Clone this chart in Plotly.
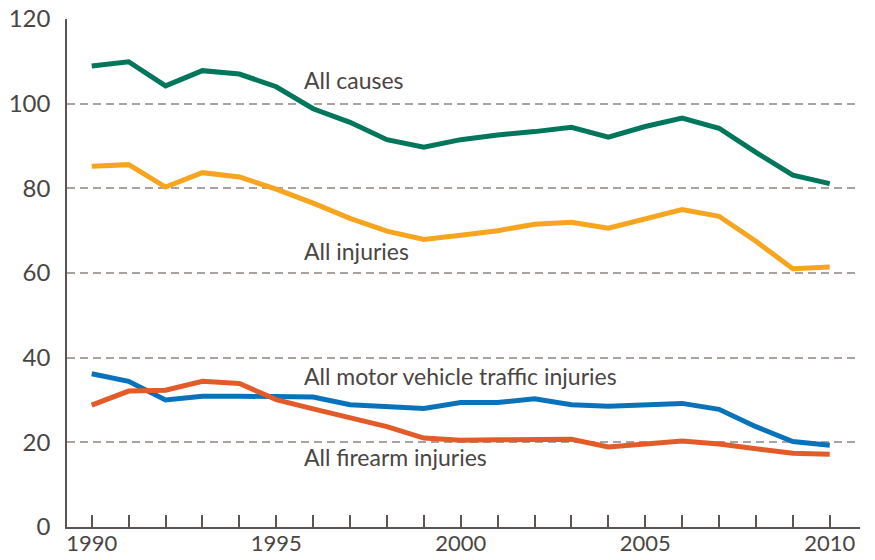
import plotly.graph_objects as go

# Death rates per 100,000, 1990-2010
years = list(range(1990, 2011))

all_causes = [108.9, 109.9, 104.2, 107.8, 107.0, 104.0, 98.8, 95.6, 91.5, 89.7,
              91.5, 92.6, 93.4, 94.4, 92.1, 94.6, 96.6, 94.2, 88.5, 83.1, 81.1]
all_injuries = [85.2, 85.6, 80.3, 83.7, 82.7, 79.8, 76.5, 72.9, 69.9, 67.9,
                68.9, 70.0, 71.5, 72.0, 70.6, 72.7, 75.0, 73.4, 67.5, 61.0, 61.4]
motor_vehicle = [36.2, 34.4, 30.0, 30.9, 30.9, 30.9, 30.7, 28.9, 28.5, 28.0,
                 29.4, 29.4, 30.3, 28.9, 28.5, 28.8, 29.2, 27.8, 23.7, 20.2, 19.3]
firearm = [28.8, 32.1, 32.3, 34.4, 33.9, 30.1, 27.9, 25.8, 23.7, 21.0,
           20.5, 20.6, 20.6, 20.7, 18.9, 19.5, 20.3, 19.6, 18.6, 17.4, 17.2]

series = [
    ("All causes", all_causes, "#00765a"),
    ("All injuries", all_injuries, "#f7a51f"),
    ("All motor vehicle traffic injuries", motor_vehicle, "#0873bb"),
    ("All firearm injuries", firearm, "#e35b28"),
]

# label positions (x in years, y in data units)
label_x = 1995.7
label_y = [105.6, 65.3, 35.6, 16.6]

x_tick_vals = years
x_tick_text = [str(y) if y % 5 == 0 else "" for y in years]
y_tick_vals = [0, 20, 40, 60, 80, 100, 120]

text_color = "#4a4543"
font_family = "Lato, 'Noto Sans', sans-serif"

fig = go.Figure()
for name, vals, color in series:
    fig.add_trace(go.Scatter(
        x=years, y=vals, mode="lines", name=name,
        line=dict(color=color, width=5, shape="linear"),
        hoverinfo="x+y+name",
    ))

for (name, _, _), ly in zip(series, label_y):
    fig.add_annotation(
        x=label_x, y=ly, text=name, showarrow=False,
        xanchor="left", yanchor="middle",
        font=dict(family=font_family, size=23, color=text_color),
    )

fig.update_layout(
    width=875, height=560,
    margin=dict(l=67, r=15, t=18.5, b=32.5),
    paper_bgcolor="white", plot_bgcolor="white",
    showlegend=False,
    font=dict(family=font_family, size=24, color=text_color),
)

fig.update_xaxes(
    range=[1989.33, 2010.82],
    tickmode="array", tickvals=x_tick_vals, ticktext=x_tick_text,
    ticks="inside", ticklen=12, tickwidth=1.5, tickcolor="#5a5552",
    showline=True, linecolor="#5a5552", linewidth=1.5,
    showgrid=False, zeroline=False, automargin=False,
    ticklabelstandoff=-4,
    tickfont=dict(size=22, color=text_color),
)

fig.update_yaxes(
    range=[0, 120],
    tickmode="array", tickvals=y_tick_vals,
    showline=True, linecolor="#5a5552", linewidth=1.5,
    showgrid=True, gridcolor="#a8a39f", gridwidth=1.5, griddash="8px,5px",
    zeroline=False, ticks="", automargin=False,
    ticklabelstandoff=10,
    tickfont=dict(size=24, color=text_color),
)

fig.write_html("out.html")
